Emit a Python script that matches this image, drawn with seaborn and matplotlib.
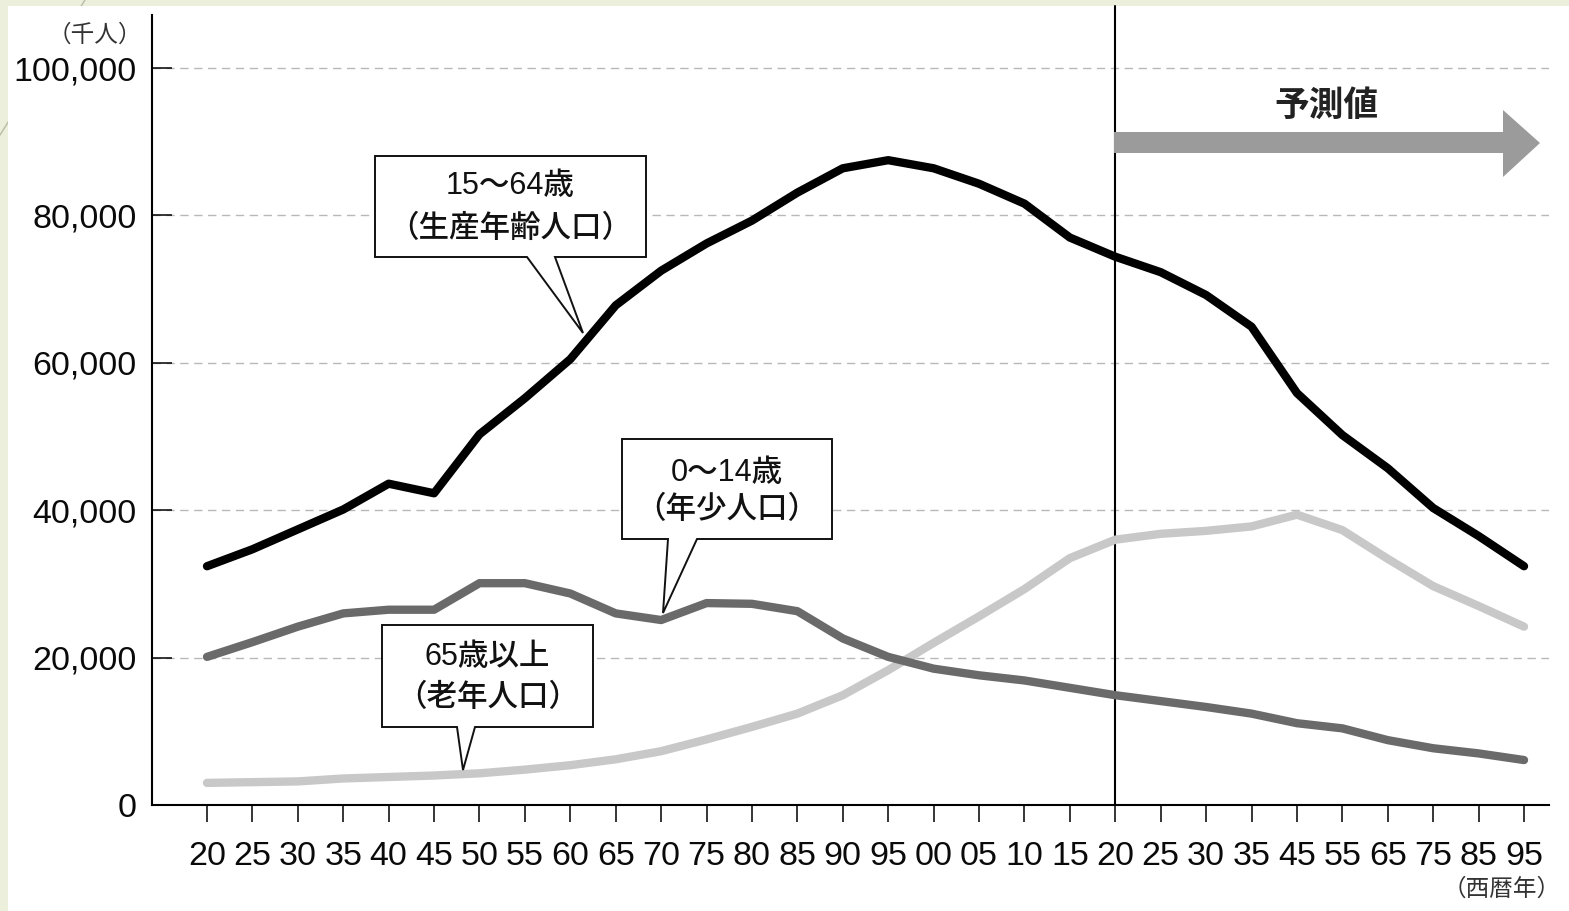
import numpy as np
import pandas as pd
import matplotlib
matplotlib.use("Agg")
import matplotlib.pyplot as plt
import seaborn as sns
from matplotlib.patches import Polygon, Rectangle
from matplotlib.lines import Line2D

# ---------------- data ----------------
year_labels = ["20", "25", "30", "35", "40", "45", "50", "55", "60", "65",
               "70", "75", "80", "85", "90", "95", "00", "05", "10", "15",
               "20", "25", "30", "35", "45", "55", "65", "75", "85", "95"]
working_age = [32400, 34700, 37400, 40100, 43600, 42300, 50300, 55200, 60500, 67800,
               72500, 76200, 79300, 83100, 86400, 87500, 86400, 84300, 81600, 77000,
               74400, 72300, 69200, 64900, 55900, 50200, 45700, 40300, 36500, 32400]
children = [20100, 22100, 24200, 26000, 26500, 26500, 30100, 30100, 28700, 26000,
            25100, 27400, 27300, 26300, 22600, 20100, 18500, 17600, 16900, 15900,
            14900, 14100, 13300, 12400, 11100, 10400, 8800, 7700, 7000, 6100]
elderly = [3000, 3100, 3200, 3600, 3800, 4000, 4300, 4800, 5400, 6200,
           7300, 8900, 10600, 12400, 14900, 18300, 22000, 25600, 29300, 33500,
           36000, 36800, 37200, 37800, 39400, 37300, 33400, 29700, 27000, 24200]
y_ticks = [0, 20000, 40000, 60000, 80000, 100000]
y_tick_labels = ["0", "20,000", "40,000", "60,000", "80,000", "100,000"]
forecast_start = 20  # index of 2020

# ---------------- style ----------------
sns.set_style("white")
plt.rcParams['font.family'] = ['Liberation Sans', 'Noto Sans CJK JP', 'DejaVu Sans']

W, H = 1569, 911
fig = plt.figure(figsize=(W / 100, H / 100), dpi=100, facecolor='#ebefdb')


def fx(x):
    return x / W


def fy(y):
    return 1 - y / H


# slide decoration + white panel
fig.add_artist(Line2D([fx(85), fx(0)], [fy(0), fy(135)], transform=fig.transFigure,
                      color='#b9bca4', lw=1, zorder=-3))
fig.add_artist(Rectangle((fx(8), 0), 1 - fx(8), fy(6), transform=fig.transFigure,
                         facecolor='white', edgecolor='none', zorder=-2))

ax = fig.add_axes([fx(152), fy(805), fx(1549) - fx(152), fy(15) - fy(805)])
ax.set_facecolor('none')

idx = np.arange(len(year_labels))
df = pd.DataFrame({
    'idx': np.tile(idx, 3),
    'value': elderly + children + working_age,
    'group': ['elderly'] * len(idx) + ['children'] * len(idx) + ['working'] * len(idx),
})
palette = {'elderly': '#c8c8c8', 'children': '#6a6a6a', 'working': '#000000'}
sns.lineplot(data=df, x='idx', y='value', hue='group', palette=palette,
             linewidth=6, legend=False, ax=ax, sort=False,
             solid_capstyle='round', solid_joinstyle='round', zorder=4)

# forecast boundary line (extends slightly above axes)
ax.axvline(forecast_start, ymin=0, ymax=1.0114, color='black', lw=1.5,
           clip_on=False, zorder=3)

ax.set_xlim(-1.211, 29.55)
ax.set_ylim(0, 107200)
ax.set_xticks(idx)
ax.set_xticklabels(year_labels)
ax.set_yticks(y_ticks)
ax.set_yticklabels(y_tick_labels)
ax.set_xlabel('')
ax.set_ylabel('')

for s in ['top', 'right']:
    ax.spines[s].set_visible(False)
for s in ['left', 'bottom']:
    ax.spines[s].set_color('black')
    ax.spines[s].set_linewidth(1.5)

ax.tick_params(axis='y', direction='in', length=14.5, width=1.1, pad=11,
               labelsize=24.5, colors='black', left=True)
ax.tick_params(axis='x', direction='out', length=12, width=1.1, pad=14,
               labelsize=24.5, colors='black', bottom=True)
for lbl in ax.get_xticklabels() + ax.get_yticklabels():
    lbl.set_color('#0a0a0a')

ax.yaxis.grid(True, color='#b8b8b8', linestyle=(0, (6, 4)), linewidth=1)
ax.xaxis.grid(False)
ax.set_axisbelow(True)

# units
fig.text(fx(142), fy(35), '（千人）', ha='right', va='center', fontsize=17, color='#333333')
fig.text(fx(1502), fy(889), '（西暦年）', ha='center', va='center', fontsize=17, color='#333333')

# forecast arrow
arrow_px = [(1114, 132), (1503, 132), (1503, 110), (1540, 143), (1503, 177), (1503, 153), (1114, 153)]
fig.add_artist(Polygon([(fx(x), fy(y)) for x, y in arrow_px], closed=True,
                       transform=fig.transFigure, facecolor='#9b9b9b', edgecolor='none', zorder=2))
fig.text(fx(1326), fy(106), '予測値', ha='center', va='center', fontsize=25,
         fontweight='bold', color='#222222')

# callouts
callouts = [
    dict(box=(375, 156, 646, 257), base=(527, 555), tip=(583, 333),
         lines=["15～64歳", "（生産年齢人口）"], ys=(186, 229)),
    dict(box=(622, 439, 832, 539), base=(668, 697), tip=(663, 613),
         lines=["0～14歳", "（年少人口）"], ys=(473, 510)),
    dict(box=(382, 625, 593, 727), base=(457, 475), tip=(463, 770),
         lines=["65歳以上", "（老年人口）"], ys=(657, 698)),
]
for c in callouts:
    x0, y0, x1, y1 = c['box']
    b0, b1 = c['base']
    tx, ty = c['tip']
    verts = [(x0, y0), (x1, y0), (x1, y1), (b1, y1), (tx, ty), (b0, y1), (x0, y1)]
    fig.add_artist(Polygon([(fx(x), fy(y)) for x, y in verts], closed=True,
                           transform=fig.transFigure, facecolor='white',
                           edgecolor='#111111', linewidth=1.4, zorder=2))
    cx = (x0 + x1) / 2
    for txt, yy in zip(c['lines'], c['ys']):
        fig.text(fx(cx), fy(yy), txt, ha='center', va='center', fontsize=22,
                 fontweight='medium', color='#111111', zorder=3)

fig.savefig('out.png', dpi=100, facecolor=fig.get_facecolor())
